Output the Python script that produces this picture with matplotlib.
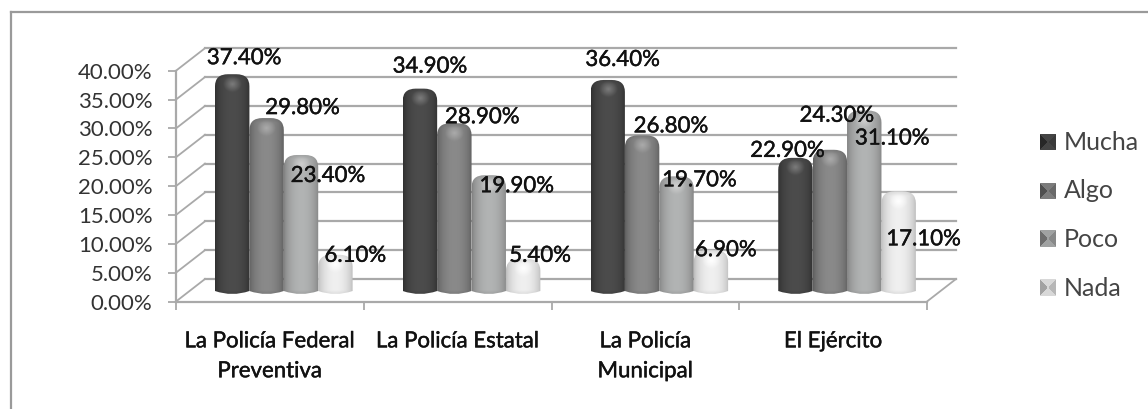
"""Cylinder column chart in fake 3D, drawn on one flat axes."""
import matplotlib
matplotlib.use("Agg")
import matplotlib.pyplot as plt
import matplotlib.patheffects as pe
import numpy as np
from matplotlib.path import Path

categories = ["La Policía Federal\nPreventiva", "La Policía Estatal", "La Policía\nMunicipal", "El Ejército"]
series = ["Mucha", "Algo", "Poco", "Nada"]
mucha = [37.4, 34.9, 36.4, 22.9]
algo = [29.8, 28.9, 26.8, 24.3]
poco = [23.4, 19.9, 19.7, 31.1]
nada = [6.1, 5.4, 6.9, 17.1]
values = [mucha, algo, poco, nada]
yticks = [0, 5, 10, 15, 20, 25, 30, 35, 40]

# label centres are hand placed in the source chart, offset in px from bar centre / bar top
# one row per category, one entry per series
label_dx = [[12, 36, 27, 20], [10, 28, 28, 17], [15, 29, 23, 15], [-8, 7, 28, 25]]
label_dy = [[16, 10, -21, -1], [22, 6, -11, 3], [20, 9, -4, 0], [7, 34, -28, -48]]

W, H = 1148, 409
LEFT, RIGHT, Y0, Y40 = 176, 927, 301.5, 70.7
PX_X = (RIGHT - LEFT) / 4
PX_Y = (Y0 - Y40) / 40
DEPTH_X, DEPTH_Y = 29 / PX_X, 22.5 / PX_Y
GRID = "#a9a9a9"
# edge, centre, highlight
SHADES = [("#2c2c2c", "#4c4c4c", "#7c7c7c"),
          ("#585858", "#8a8a8a", "#ababab"),
          ("#7a7a7a", "#b2b4b4", "#d0d0d0"),
          ("#b4b4b4", "#f0f0f0", "#ffffff")]

plt.rcParams["font.family"] = ["Lato", "DejaVu Sans"]
fig = plt.figure(figsize=(W / 100, H / 100), dpi=100, facecolor="white")
ax = fig.add_axes([LEFT / W, 1 - Y0 / H, (RIGHT - LEFT) / W, (Y0 - Y40) / H])
ax.set_xlim(0, 4)
ax.set_ylim(0, 40)
ax.patch.set_alpha(0)


def rgb(c):
    return np.array(matplotlib.colors.to_rgb(c))


def bar_image(shade, h_px):
    edge, centre, hi = [rgb(c) for c in shade]
    h_px = int(h_px)
    w_px = 34
    u = (np.arange(w_px) + 0.5) / w_px
    yy = np.arange(h_px) + 0.5
    uu, yy = np.meshgrid(u, yy)
    t = np.sin(np.pi * uu) ** 0.55
    img = edge + (centre - edge) * t[..., None]
    # highlight near the rounded top
    d = np.hypot((uu - 0.5) * w_px, (yy - 10) * 1.1)
    spot = np.clip(1 - d / 9, 0, 1)[..., None]
    img = img + (hi - img) * spot
    # dark rim at the very top and foot
    rim = np.clip(1 - yy / 5, 0, 1)[..., None] * 0.35
    img = img + (edge - img) * rim
    foot = np.clip((yy - (h_px - 4)) / 4, 0, 1)[..., None] * 0.3
    img = img + (edge - img) * foot
    return img


def bar_path(x0, x1, y0, y1):
    rx = (x1 - x0) * 0.38
    ry = 12 / PX_Y
    rb = 3 / PX_Y
    verts = [(x0, y0 + rb), (x0, y1 - ry), (x0, y1), (x0 + rx, y1), (x1 - rx, y1), (x1, y1), (x1, y1 - ry),
             (x1, y0 + rb), ((x0 + x1) / 2, y0 - rb), (x0, y0 + rb)]
    codes = [Path.MOVETO, Path.LINETO, Path.CURVE3, Path.CURVE3, Path.LINETO, Path.CURVE3, Path.CURVE3,
             Path.LINETO, Path.CURVE3, Path.CURVE3]
    return Path(verts, codes)


# walls and floor
for y in yticks:
    ax.plot([0, DEPTH_X], [y, y + DEPTH_Y], color=GRID, lw=1.3, clip_on=False, zorder=1)
    ax.plot([DEPTH_X, 4 + DEPTH_X], [y + DEPTH_Y, y + DEPTH_Y], color=GRID, lw=1.6, clip_on=False, zorder=1)
ax.plot([4, 4 + DEPTH_X], [0, DEPTH_Y], color=GRID, lw=1.3, clip_on=False, zorder=1)

# bars
bar_w = 34.4 / PX_X
start = 39 / PX_X
base = 7.5 / PX_Y
cap = 4 / PX_Y
for s, vals in enumerate(values):
    for c, v in enumerate(vals):
        x0 = c + start + s * bar_w
        y1 = base + v + cap
        h_px = (y1 - base) * PX_Y
        im = ax.imshow(bar_image(SHADES[s], h_px), extent=[x0, x0 + bar_w, base, y1], aspect="auto",
                       interpolation="bilinear", zorder=2 + s * 0.01, clip_on=True)
        im.set_clip_path(bar_path(x0, x0 + bar_w, base, y1), ax.transData)
ax.set_xlim(0, 4)
ax.set_ylim(0, 40)

# data labels
for s, vals in enumerate(values):
    for c, v in enumerate(vals):
        x = c + start + (s + 0.5) * bar_w + label_dx[c][s] / PX_X
        y = base + v + cap + label_dy[c][s] / PX_Y
        t = ax.text(x, y, f"{v:.2f}%", ha="center", va="center", fontsize=16, color="#111111",
                    clip_on=False, zorder=20)
        t.set_path_effects([pe.withStroke(linewidth=0.3, foreground="#111111")])

# axes furniture
for name in ("top", "right"):
    ax.spines[name].set_visible(False)
for name in ("left", "bottom"):
    ax.spines[name].set_color(GRID)
    ax.spines[name].set_linewidth(1.6)
ax.set_yticks(yticks)
ax.set_yticklabels([f"{y:.2f}%" for y in yticks], fontsize=16, color="#333333")
ax.tick_params(axis="y", length=6, width=1.3, color=GRID, pad=11)
ax.set_xticks(range(5))
ax.set_xticklabels([])
ax.tick_params(axis="x", which="major", length=6, width=1.3, color=GRID)
ax.set_xticks([i + 0.5 for i in range(4)], minor=True)
ax.set_xticklabels(categories, minor=True, fontsize=16, color="#111111", linespacing=1.62)
ax.tick_params(axis="x", which="minor", length=0, pad=21.5)
for lab in ax.get_xticklabels(minor=True):
    lab.set_verticalalignment("top")
    lab.set_path_effects([pe.withStroke(linewidth=0.3, foreground="#111111")])

# legend, small pyramids like the source
legend_y = [142, 191, 239, 288]
for s, name in enumerate(series):
    y = (Y0 - legend_y[s]) / PX_Y
    x = (1040 - LEFT) / PX_X
    n = 16
    uu, vv = np.meshgrid((np.arange(n) + 0.5) / n - 0.5, (np.arange(n) + 0.5) / n - 0.5)
    edge, centre, hi = [rgb(c) * 0.9 for c in SHADES[s]]
    img = np.where((np.abs(uu) > np.abs(vv))[..., None], edge[None, None], centre[None, None])
    img = np.where(((uu > 0) & (uu > np.abs(vv)))[..., None], centre[None, None] * 0.85, img)
    ax.imshow(img, extent=[x, x + 16 / PX_X, y - 8 / PX_Y, y + 8 / PX_Y], aspect="auto", clip_on=False,
              interpolation="nearest", zorder=3)
    ax.text((1064 - LEFT) / PX_X, y, name, ha="left", va="center", fontsize=18, color="#444444", clip_on=False)
ax.set_xlim(0, 4)
ax.set_ylim(0, 40)

# outer frame: only top and left survive in the crop
fig.add_artist(plt.Line2D([10.5 / W, 10.5 / W], [0, 1 - 12 / H], color="#9a9a9a", lw=1.6))
fig.add_artist(plt.Line2D([10.5 / W, 1], [1 - 12 / H, 1 - 12 / H], color="#9a9a9a", lw=1.6))

fig.savefig("out.png", dpi=100)
